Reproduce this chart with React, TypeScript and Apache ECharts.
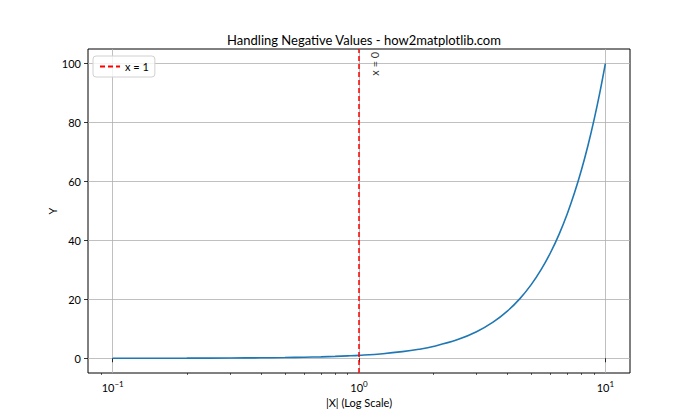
import React, { useEffect, useRef } from "react";
import * as echarts from "echarts";

const xValues = [0.1, 0.15, 0.2, 0.3, 0.4, 0.5, 0.6, 0.7, 0.8, 0.9, 1, 1.25, 1.5, 1.75, 2, 2.5, 3, 3.5, 4, 4.5, 5, 5.5, 6, 6.5, 7, 7.5, 8, 8.5, 9, 9.5, 10];
const yValues = [0.01, 0.02, 0.04, 0.09, 0.16, 0.25, 0.36, 0.49, 0.64, 0.81, 1, 1.56, 2.25, 3.06, 4, 6.25, 9, 12.25, 16, 20.25, 25, 30.25, 36, 42.25, 49, 56.25, 64, 72.25, 81, 90.25, 100];
const xMajorTicks = [0.1, 1, 10];
const xMinorTicks = [0.09, 0.2, 0.3, 0.4, 0.5, 0.6, 0.7, 0.8, 0.9, 2, 3, 4, 5, 6, 7, 8, 9];
const yTicks = [0, 20, 40, 60, 80, 100];
const vLineX = 1;
const annotation = { x: 1.1, y: 100, text: "x = 0" };
const xRange = [0.0794, 12.59];
const yRange = [-5, 105];

const FONT = "Lato";

export default function App() {
  const ref = useRef<HTMLDivElement>(null);
  useEffect(() => {
    if (!ref.current) return;
    const chart = echarts.init(ref.current, null, { renderer: "svg" });
    const supMap: Record<string, string> = { "-1": "−1", "0": "0", "1": "1" };
    chart.setOption({
      animation: false,
      backgroundColor: "#fff",
      textStyle: { fontFamily: FONT },
      title: {
        text: "Handling Negative Values - how2matplotlib.com",
        left: 359,
        textAlign: "center",
        top: 28,
        textStyle: { fontFamily: FONT, fontSize: 13, fontWeight: "normal", color: "#000" },
      },
      legend: {
        data: ["x = 1"],
        left: 93,
        top: 56,
        orient: "vertical",
        itemWidth: 20,
        itemHeight: 10,
        padding: [5, 6, 5, 6],
        borderColor: "#d0d0d0",
        borderWidth: 1,
        borderRadius: 3,
        backgroundColor: "rgba(255,255,255,0.8)",
        itemStyle: { opacity: 0 },
        textStyle: { fontFamily: FONT, fontSize: 11, color: "#000" },
      },
      grid: {
        left: 88,
        top: 49,
        width: 542,
        height: 324,
        show: true,
        borderColor: "#000",
        borderWidth: 1,
      },
      xAxis: [
        {
          type: "log",
          logBase: 10,
          min: xRange[0],
          max: xRange[1],
          name: "|X| (Log Scale)",
          nameLocation: "middle",
          nameGap: 24,
          nameTextStyle: { fontFamily: FONT, fontSize: 11, color: "#000" },
          axisLine: { show: false },
          axisTick: { show: true, length: 4, lineStyle: { color: "#000", width: 0.8 }, customValues: xMajorTicks },
          axisLabel: {
            customValues: xMajorTicks,
            margin: 7,
            color: "#000",
            formatter: (v: number) => {
              const e = Math.round(Math.log10(v));
              return "{b|10}{s|" + (supMap[String(e)] || String(e)) + "}";
            },
            rich: {
              b: { fontFamily: FONT, fontSize: 11, color: "#000" },
              s: { fontFamily: FONT, fontSize: 8, color: "#000", verticalAlign: "top", padding: [0, 0, 6, 0] },
            },
          },
          splitLine: { show: true, lineStyle: { color: "#b0b0b0", width: 0.8 } },
        },
        {
          type: "log",
          logBase: 10,
          min: xRange[0],
          max: xRange[1],
          position: "bottom",
          axisLine: { show: false },
          axisTick: { show: true, length: 2, lineStyle: { color: "#000", width: 0.6 }, customValues: xMinorTicks },
          axisLabel: { show: false },
          splitLine: { show: false },
        },
      ],
      yAxis: {
        type: "value",
        min: yRange[0],
        max: yRange[1],
        name: "Y",
        nameLocation: "middle",
        nameGap: 30,
        nameMoveOverlap: false,
        nameTextStyle: { fontFamily: FONT, fontSize: 11, color: "#000" },
        axisLine: { show: false },
        axisTick: { show: true, length: 4, lineStyle: { color: "#000", width: 0.8 }, customValues: yTicks },
        axisLabel: { customValues: yTicks, margin: 7, fontFamily: FONT, fontSize: 11, color: "#000" },
        splitLine: { show: true, lineStyle: { color: "#b0b0b0", width: 0.8 } },
      },
      series: [
        {
          type: "line",
          name: "|X|^2",
          data: xValues.map((x, i) => [x, yValues[i]]),
          showSymbol: false,
          symbol: "none",
          smooth: 0.4,
          lineStyle: { color: "#1f77b4", width: 1.6 },
          itemStyle: { color: "#1f77b4" },
          z: 3,
        },
        {
          type: "line",
          name: "x = 1",
          data: [],
          symbol: "none",
          showSymbol: false,
          lineStyle: { color: "#ff0000", type: [5, 3], width: 1.5 },
          itemStyle: { color: "#ff0000" },
          markLine: {
            silent: true,
            symbol: ["none", "none"],
            label: { show: false },
            lineStyle: { color: "#ff0000", type: [5, 3], width: 1.5 },
            data: [{ xAxis: vLineX }],
          },
          z: 4,
        },
        {
          type: "scatter",
          name: "annotation",
          symbolSize: 0,
          data: [[annotation.x, annotation.y]],
          label: {
            show: true,
            formatter: annotation.text,
            rotate: 90,
            position: "inside",
            offset: [0, 5],
            fontFamily: FONT,
            fontSize: 11,
            color: "#000",
          },
          z: 5,
        },
      ],
    });
    return () => chart.dispose();
  }, []);
  return <div ref={ref} style={{ position: "fixed", left: 0, top: 0, width: 700, height: 420 }} />;
}
